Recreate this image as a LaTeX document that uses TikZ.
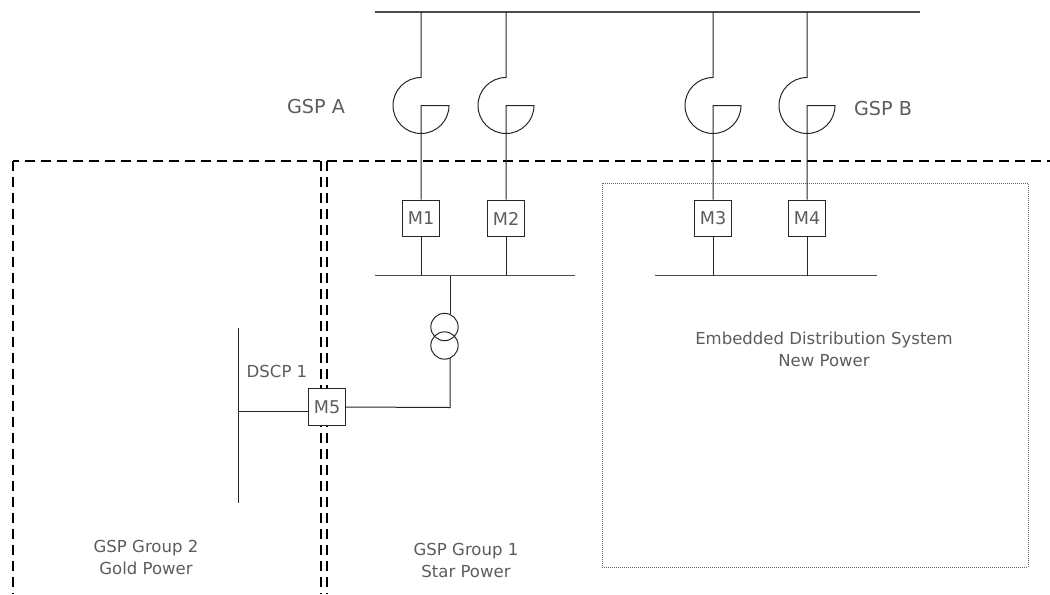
\documentclass[tikz,border=0pt]{standalone}
\usepackage{fontspec}
\setmainfont{DejaVu Sans}
\definecolor{txt}{gray}{0.36}
\tikzset{
  x=0.75pt,y=-0.75pt,
  wire/.style={draw=black!85,line width=0.75pt},
  bus/.style={draw=black!70,line width=1.1pt},
  meter/.style={draw=black!85,line width=0.9pt,fill=white,minimum size=27.5pt,inner sep=0pt,text=txt,font=\fontsize{13.2}{15}\selectfont},
  bound/.style={draw=black,line width=1.5pt,dash pattern=on 7.5pt off 4.5pt},
  dotbox/.style={draw=black!60,line width=0.75pt,dash pattern=on 0.75pt off 0.75pt},
  lab/.style={text=txt,align=center,inner sep=0pt,font=\fontsize{12.4}{16.5}\selectfont},
  biglab/.style={text=txt,inner sep=0pt,font=\fontsize{14.4}{17}\selectfont},
  coil/.style={draw=black!85,line width=0.75pt,circle,minimum size=20.5pt,inner sep=0pt},
}
\begin{document}
\begin{tikzpicture}
\useasboundingbox (0,0) rectangle (1050,594);
% boundaries
\coordinate (bl0) at (13,594); \coordinate (bl1) at (13,161); \coordinate (bl2) at (320,161);
\coordinate (bm0) at (321,594); \coordinate (bm1) at (321,161);
\coordinate (br0) at (327,594); \coordinate (br1) at (327,161); \coordinate (br2) at (1050,161);
\draw[bound] (bl1) -- (bl0);
\draw[bound,dash phase=3pt] (bl1) -- (bl2);
\draw[bound] (bm1) -- (bm0);
\draw[bound,line width=1.2pt] (br1) -- (br0);
\draw[bound] (br1) -- (br2);
% embedded system
\coordinate (e1) at (602,183); \coordinate (e2) at (1028,567);
\draw[dotbox] (e1) rectangle (e2);
% busbars
\coordinate (ta) at (375,12); \coordinate (tb) at (920,12);
\coordinate (la) at (375,275.5); \coordinate (lb) at (575,275.5);
\coordinate (ra) at (655,275.5); \coordinate (rb) at (877,275.5);
\coordinate (da) at (238,328); \coordinate (db) at (238,503);
\draw[bus] (ta) -- (tb);
\draw[bus] (la) -- (lb);
\draw[bus] (ra) -- (rb);
\draw[wire] (da) -- (db);
% feeders with current transformers
\foreach \n/\x in {1/421,2/506,3/713,4/807}{
  \coordinate (top\n) at (\x,12);
  \coordinate (ct\n) at (\x,77.5);
  \coordinate (cc\n) at (\x,105.5);
  \coordinate (low\n) at (\x,275.5);
  \node[meter] (M\n) at (\x,218.5) {M\n};
  \draw[wire] (top\n) -- (ct\n) arc[start angle=270,end angle=0,radius=28] -- (cc\n) -- (M\n.north);
  \draw[wire] (M\n.south) -- (low\n);
}
% transformer
\coordinate (tt) at (450,275.5); \coordinate (tt1) at (450,314);
\coordinate (tt2) at (450,358); \coordinate (tc) at (450,407.5);
\node[coil] (w1) at (444.5,327) {};
\node[coil] (w2) at (444.5,345.5) {};
\draw[wire] (tt) -- (tt1);
% M5
\node[meter] (M5) at (327,407) {M5};
\coordinate (dj) at (238,411);
\draw[wire] (tt2) -- (tc) -- (M5.east);
\draw[wire] (dj) -- (M5.west |- dj);
% labels
\node[biglab] (gspa) at (316,107) {GSP A};
\node[biglab] (gspb) at (883,109) {GSP B};
\node[lab] (dscp) at (277,371.5) {DSCP 1};
\node[lab] (eds) at (824,349.5) {Embedded Distribution System\\New Power};
\node[lab] (g2) at (146,557) {GSP Group 2\\Gold Power};
\node[lab] (g1) at (466,560) {GSP Group 1\\Star Power};
\end{tikzpicture}
\end{document}
